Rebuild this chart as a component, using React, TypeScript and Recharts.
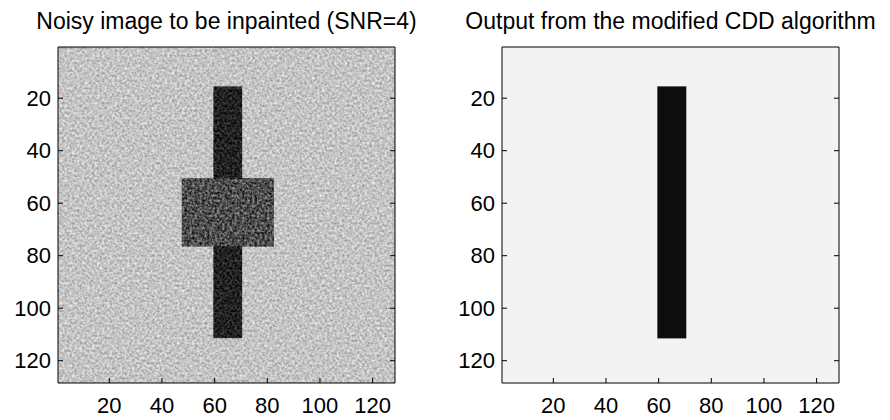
import React from 'react';
import { ComposedChart, XAxis, YAxis, ReferenceArea } from 'recharts';

// image pixel extent (128x128 image) and tick labels shared by both panels
const imageExtent: [number, number] = [0.5, 128.5];
const axisTicks = [20, 40, 60, 80, 100, 120];
const panelTitles = ['Noisy image to be inpainted (SNR=4)', 'Output from the modified CDD algorithm'];

// regions of the noisy test image, in pixel coordinates, with mean gray level 0-255
const noisyBlockX1 = [0.5, 59.5, 47.5];
const noisyBlockX2 = [128.5, 70.5, 82.5];
const noisyBlockY1 = [0.5, 15.5, 50.5];
const noisyBlockY2 = [128.5, 111.5, 76.5];
const noisyBlockGray = [196, 34, 78];

// regions of the restored image
const restoredBlockX1 = [0.5, 59.5];
const restoredBlockX2 = [128.5, 70.5];
const restoredBlockY1 = [0.5, 15.5];
const restoredBlockY2 = [128.5, 111.5];
const restoredBlockGray = [243, 15];

const FONT = '"Liberation Sans", Arial, Helvetica, sans-serif';
const W = 445;
const H = 420;

const grayHex = (g: number) => {
  const h = Math.round(g).toString(16).padStart(2, '0');
  return `#${h}${h}${h}`;
};

type Block = { x1: number; x2: number; y1: number; y2: number; gray: number; grain: string | null };

const makeBlocks = (
  x1: number[], x2: number[], y1: number[], y2: number[], gray: number[], grains: (string | null)[],
): Block[] => x1.map((_, i) => ({ x1: x1[i], x2: x2[i], y1: y1[i], y2: y2[i], gray: gray[i], grain: grains[i] }));

const noisyBlocks = makeBlocks(noisyBlockX1, noisyBlockX2, noisyBlockY1, noisyBlockY2, noisyBlockGray,
  ['grainSoft', 'grainSoft', 'grainStrong']);
const restoredBlocks = makeBlocks(restoredBlockX1, restoredBlockX2, restoredBlockY1, restoredBlockY2, restoredBlockGray,
  [null, 'soften']);

const tickStyle = { fill: '#000', fontSize: 22, fontFamily: FONT };

const Filters = () => (
  <svg width={0} height={0} style={{ position: 'absolute' }}>
    <defs>
      <filter id="grainSoft" x="0" y="0" width="1" height="1" colorInterpolationFilters="sRGB">
        <feTurbulence type="fractalNoise" baseFrequency="0.4" numOctaves="2" seed="7" result="t" />
        <feColorMatrix in="t" type="matrix" values="1 0 0 0 0  1 0 0 0 0  1 0 0 0 0  0 0 0 0 1" result="n" />
        <feComposite in="SourceGraphic" in2="n" operator="arithmetic" k1="0" k2="1" k3="0.5" k4="-0.25" result="c" />
        <feComposite in="c" in2="SourceGraphic" operator="in" />
      </filter>
      <filter id="grainStrong" x="0" y="0" width="1" height="1" colorInterpolationFilters="sRGB">
        <feTurbulence type="fractalNoise" baseFrequency="0.4" numOctaves="2" seed="3" result="t" />
        <feColorMatrix in="t" type="matrix" values="1 0 0 0 0  1 0 0 0 0  1 0 0 0 0  0 0 0 0 1" result="n" />
        <feComposite in="SourceGraphic" in2="n" operator="arithmetic" k1="0" k2="1" k3="0.9" k4="-0.45" result="c" />
        <feComposite in="c" in2="SourceGraphic" operator="in" />
      </filter>
      <filter id="soften" x="-0.2" y="-0.05" width="1.4" height="1.1">
        <feGaussianBlur stdDeviation="0.6" />
      </filter>
    </defs>
  </svg>
);

const blockShape = (b: Block) => (props: any) => (
  <rect
    x={props.x}
    y={props.y}
    width={props.width}
    height={props.height}
    fill={grayHex(b.gray)}
    filter={b.grain ? `url(#${b.grain})` : undefined}
  />
);

const ImagePanel = ({ title, blocks, left, yAxisWidth, rightMargin }: {
  title: string; blocks: Block[]; left: number; yAxisWidth: number; rightMargin: number;
}) => {
  const plotCenter = (yAxisWidth + (W - rightMargin)) / 2;
  return (
    <div style={{ position: 'absolute', left, top: 0, width: W, height: H }}>
      <div
        style={{
          position: 'absolute', top: 10, left: plotCenter - 250, width: 500, textAlign: 'center',
          fontFamily: FONT, fontSize: 23, lineHeight: '23px', color: '#000', whiteSpace: 'nowrap',
        }}
      >
        {title}
      </div>
      {/* top/right axes get 1px so they are drawn (zero-size axes are skipped) */}
      <ComposedChart width={W} height={H} data={[]} margin={{ top: 46, right: rightMargin - 1, bottom: 0, left: 0 }}>
        {blocks.map((b, i) => (
          <ReferenceArea
            key={i}
            x1={b.x1} x2={b.x2} y1={b.y1} y2={b.y2}
            ifOverflow="hidden"
            zIndex={-50}
            shape={blockShape(b)}
          />
        ))}
        <XAxis
          type="number" dataKey="x" domain={imageExtent} ticks={axisTicks} interval={0}
          allowDataOverflow height={37} tickSize={-5} tickMargin={19}
          axisLine={{ stroke: '#000' }} tickLine={{ stroke: '#000' }} tick={tickStyle}
        />
        <XAxis
          xAxisId="top" orientation="top" type="number" domain={imageExtent} ticks={axisTicks} interval={0}
          allowDataOverflow height={1} tickSize={-5} tickFormatter={() => ''}
          axisLine={{ stroke: '#000' }} tickLine={{ stroke: '#000' }}
        />
        <YAxis
          type="number" dataKey="y" domain={imageExtent} ticks={axisTicks} interval={0} reversed
          allowDataOverflow width={yAxisWidth} tickSize={-5} tickMargin={12}
          axisLine={{ stroke: '#000' }} tickLine={{ stroke: '#000' }} tick={tickStyle}
        />
        <YAxis
          yAxisId="right" orientation="right" type="number" domain={imageExtent} ticks={axisTicks} interval={0}
          reversed allowDataOverflow width={1} tickSize={-5} tickFormatter={() => ''}
          axisLine={{ stroke: '#000' }} tickLine={{ stroke: '#000' }}
        />
      </ComposedChart>
    </div>
  );
};

export default function App() {
  return (
    <div style={{ position: 'fixed', left: 0, top: 0, width: 890, height: 420, background: '#fff', overflow: 'hidden' }}>
      <Filters />
      <ImagePanel title={panelTitles[0]} blocks={noisyBlocks} left={0} yAxisWidth={58} rightMargin={50} />
      <ImagePanel title={panelTitles[1]} blocks={restoredBlocks} left={445} yAxisWidth={57} rightMargin={51} />
    </div>
  );
}
